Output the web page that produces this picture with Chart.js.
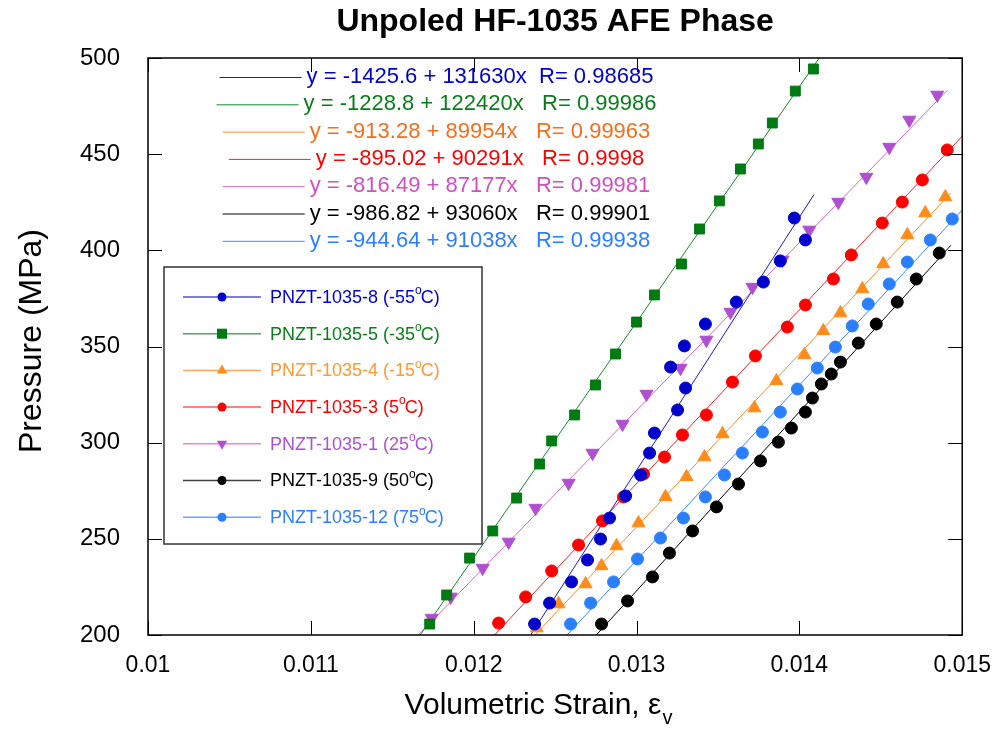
<!DOCTYPE html>
<html>
<head>
<meta charset="utf-8">
<script src="https://cdn.jsdelivr.net/npm/chart.js"></script>
<title>Unpoled HF-1035 AFE Phase</title>
<style>
  body { margin: 0; background: #fff; }
  #wrap { width: 1000px; height: 736px; position: relative; }
</style>
</head>
<body>
<div id="wrap"><canvas id="afeChart"></canvas></div>
<script>
// samples in legend order
const sampleNames = ['PNZT-1035-8', 'PNZT-1035-5', 'PNZT-1035-4', 'PNZT-1035-3', 'PNZT-1035-1', 'PNZT-1035-9', 'PNZT-1035-12'];
const temps = ['-55', '-35', '-15', '5', '25', '50', '75'];

// volumetric strain / pressure (MPa)
const strain8 = [0.012374, 0.012466, 0.012601, 0.012699, 0.012779, 0.012834, 0.012933, 0.013025, 0.013080, 0.013110, 0.013252, 0.013301, 0.013209, 0.013294, 0.013423, 0.013613, 0.013779, 0.013883, 0.014037, 0.013969];
const press8  = [205.7, 216.6, 227.6, 239.0, 249.9, 260.8, 272.3, 283.2, 294.6, 305.0, 317.0, 328.4, 339.3, 350.3, 361.7, 373.1, 383.5, 394.5, 405.4, 416.8];

const strain5 = [0.011730, 0.011834, 0.011975, 0.012117, 0.012264, 0.012405, 0.012479, 0.012620, 0.012748, 0.012871, 0.013000, 0.013110, 0.013276, 0.013387, 0.013509, 0.013638, 0.013748, 0.013834, 0.013975, 0.014086];
const press5  = [205.7, 220.8, 240.0, 254.1, 271.2, 288.9, 300.9, 314.4, 330.0, 346.1, 362.7, 376.8, 392.9, 411.1, 425.7, 442.3, 455.3, 466.2, 482.8, 494.3];

const strain4 = [0.012387, 0.012521, 0.012687, 0.012785, 0.012877, 0.013012, 0.013178, 0.013307, 0.013417, 0.013528, 0.013724, 0.013859, 0.014031, 0.014147, 0.014252, 0.014387, 0.014515, 0.014663, 0.014773, 0.014896];
const press4  = [203.6, 216.1, 226.5, 235.9, 246.3, 258.2, 271.8, 282.2, 292.5, 304.5, 318.0, 332.1, 345.6, 358.1, 367.4, 379.9, 392.9, 408.0, 419.4, 427.7];

const strain3 = [0.012153, 0.012319, 0.012479, 0.012644, 0.012791, 0.012920, 0.013043, 0.013172, 0.013282, 0.013429, 0.013589, 0.013730, 0.013926, 0.014037, 0.014209, 0.014319, 0.014509, 0.014632, 0.014755, 0.014908];
const press3  = [206.2, 219.8, 233.3, 246.8, 259.3, 271.8, 283.7, 292.5, 304.0, 314.4, 331.5, 345.1, 360.1, 371.6, 385.1, 397.6, 414.2, 425.1, 436.6, 452.2];

const strain1 = [0.011742, 0.011859, 0.012055, 0.012215, 0.012380, 0.012583, 0.012730, 0.012914, 0.013061, 0.013270, 0.013429, 0.013577, 0.013712, 0.013896, 0.014061, 0.014239, 0.014411, 0.014552, 0.014675, 0.014847];
const press1  = [208.8, 219.8, 234.8, 248.4, 266.0, 279.0, 294.6, 309.7, 325.3, 338.8, 353.4, 367.9, 380.9, 395.0, 410.6, 425.1, 438.1, 453.7, 467.8, 480.8];

const strain9 = [0.012785, 0.012945, 0.013098, 0.013202, 0.013344, 0.013491, 0.013626, 0.013761, 0.013871, 0.013951, 0.014037, 0.014080, 0.014135, 0.014196, 0.014252, 0.014362, 0.014472, 0.014601, 0.014718, 0.014859];
const press9  = [205.7, 217.7, 230.2, 242.6, 254.1, 266.6, 278.5, 290.5, 300.3, 307.6, 315.9, 323.2, 330.5, 335.7, 341.9, 351.8, 361.7, 373.1, 385.1, 398.6];

const strain12 = [0.012595, 0.012718, 0.012859, 0.013006, 0.013147, 0.013288, 0.013423, 0.013540, 0.013650, 0.013773, 0.013883, 0.013988, 0.014110, 0.014221, 0.014325, 0.014423, 0.014552, 0.014663, 0.014804, 0.014939];
const press12  = [205.7, 216.6, 227.6, 239.5, 250.4, 260.8, 271.8, 283.2, 294.6, 305.5, 315.9, 327.9, 338.8, 349.7, 360.7, 372.1, 382.5, 393.9, 405.4, 416.3];

// linear fits printed on the chart: y = a + b x
const fitIntercept = [-1425.6, -1228.8, -913.28, -895.02, -816.49, -986.82, -944.64];
const fitSlope     = [131630, 122420, 89954, 90291, 87177, 93060, 91038];
const fitR         = ['0.98685', '0.99986', '0.99963', '0.9998', '0.99981', '0.99901', '0.99938'];
const fitStart     = [0.01230, 0.01160, 0.01230, 0.01210, 0.01160, 0.01270, 0.01250];
const fitEnd       = [0.01409, 0.01420, 0.01493, 0.01500, 0.01491, 0.01493, 0.01500];

const strains = [strain8, strain5, strain4, strain3, strain1, strain9, strain12];
const pressures = [press8, press5, press4, press3, press1, press9, press12];

// styling
const FONT = "'Liberation Sans', Arial, sans-serif";
const markerColors = ['#0000cc', '#007a12', '#ff8c1a', '#ff0000', '#b050d0', '#000000', '#2a7fff'];
const lineColors   = ['#1a1acc', '#168a2a', '#ff8a2a', '#ff2020', '#d866c8', '#000000', '#3a88ff'];
const eqColors     = ['#0000cc', '#0a7d1a', '#f07020', '#ff0000', '#d050c0', '#000000', '#2a7fff'];
const legendColors = ['#0000cc', '#0a7d1a', '#ff9933', '#ff0000', '#b050d0', '#000000', '#2a7fff'];
const pointStyles  = ['circle', 'rect', 'triangle', 'circle', 'triangle', 'circle', 'circle'];
const pointSizes   = [6, 7, 7.5, 6, 7.5, 6, 6];
const rotations    = [0, 0, 0, 0, 180, 0, 0];
const eqGaps       = ['  ', '   ', '   ', '   ', '   ', '   ', '   '];

const datasets = [];
sampleNames.forEach((name, i) => {
    datasets.push({
        label: name,
        data: strains[i].map((x, j) => ({ x: x, y: pressures[i][j] })),
        showLine: false,
        pointStyle: pointStyles[i],
        pointRadius: pointSizes[i],
        pointRotation: rotations[i],
        backgroundColor: markerColors[i],
        borderColor: markerColors[i],
        borderWidth: 1,
        order: 0
    });
});
sampleNames.forEach((name, i) => {
    const a = fitIntercept[i], b = fitSlope[i];
    datasets.push({
        label: name + ' fit',
        data: [{ x: fitStart[i], y: a + b * fitStart[i] }, { x: fitEnd[i], y: a + b * fitEnd[i] }],
        showLine: true,
        pointRadius: 0,
        borderColor: lineColors[i],
        borderWidth: 1,
        order: 1
    });
});

function drawMarker(ctx, style, x, y, r, color, rot) {
    ctx.fillStyle = color;
    ctx.beginPath();
    if (style === 'circle') {
        ctx.arc(x, y, r, 0, Math.PI * 2);
    } else if (style === 'rect') {
        ctx.rect(x - r, y - r, 2 * r, 2 * r);
    } else {
        const d = rot === 180 ? -1 : 1;
        ctx.moveTo(x, y - d * r);
        ctx.lineTo(x + r * 0.866, y + d * r * 0.5);
        ctx.lineTo(x - r * 0.866, y + d * r * 0.5);
        ctx.closePath();
    }
    ctx.fill();
}

const decorations = {
    id: 'decorations',
    afterDraw(chart) {
        const ctx = chart.ctx;
        const area = chart.chartArea;
        const xs = chart.scales.x, ys = chart.scales.y;
        ctx.save();

        // frame and inward ticks
        ctx.strokeStyle = '#000';
        ctx.lineWidth = 1.5;
        ctx.strokeRect(area.left, area.top, area.right - area.left, area.bottom - area.top);
        ctx.lineWidth = 1;
        ctx.beginPath();
        xs.ticks.forEach(t => {
            const px = Math.round(xs.getPixelForValue(t.value)) + 0.5;
            ctx.moveTo(px, area.bottom); ctx.lineTo(px, area.bottom - 14);
            ctx.moveTo(px, area.top); ctx.lineTo(px, area.top + 14);
        });
        ys.ticks.forEach(t => {
            const py = Math.round(ys.getPixelForValue(t.value)) + 0.5;
            ctx.moveTo(area.left, py); ctx.lineTo(area.left + 14, py);
            ctx.moveTo(area.right, py); ctx.lineTo(area.right - 14, py);
        });
        ctx.stroke();

        // title
        ctx.fillStyle = '#000';
        ctx.textAlign = 'center';
        ctx.textBaseline = 'alphabetic';
        ctx.font = 'bold 32px ' + FONT;
        ctx.fillText('Unpoled HF-1035 AFE Phase', (area.left + area.right) / 2, 31);

        // y axis title
        ctx.save();
        ctx.translate(41, 341);
        ctx.rotate(-Math.PI / 2);
        ctx.font = '32px ' + FONT;
        ctx.fillText('Pressure (MPa)', 0, 0);
        ctx.restore();

        // x axis title with subscript
        ctx.font = '30px ' + FONT;
        const main = 'Volumetric Strain, \u03b5';
        const wMain = ctx.measureText(main).width;
        ctx.font = '20px ' + FONT;
        const wSub = ctx.measureText('v').width;
        const x0 = 538 - (wMain + wSub) / 2;
        ctx.textAlign = 'left';
        ctx.font = '30px ' + FONT;
        ctx.fillText(main, x0, 714);
        ctx.font = '20px ' + FONT;
        ctx.fillText('v', x0 + wMain + 1, 724);

        // fit equations
        ctx.font = '22px ' + FONT;
        ctx.textBaseline = 'middle';
        sampleNames.forEach((n, i) => {
            const txt = 'y = ' + fitIntercept[i] + ' + ' + fitSlope[i] + 'x' + eqGaps[i] + 'R= ' + fitR[i];
            const w = ctx.measureText(txt).width;
            const y = 77 + i * 27.3;
            const sx = 480 - w / 2;
            ctx.strokeStyle = lineColors[i];
            ctx.lineWidth = 1;
            ctx.beginPath();
            ctx.moveTo(sx - 87, y + 0.5); ctx.lineTo(sx - 5, y + 0.5);
            ctx.stroke();
            ctx.fillStyle = eqColors[i];
            ctx.fillText(txt, sx, y);
        });

        // legend box
        ctx.strokeStyle = '#333';
        ctx.lineWidth = 1.5;
        ctx.strokeRect(164, 267, 318, 277);
        sampleNames.forEach((n, i) => {
            const y = 297 + i * 36.7;
            ctx.globalAlpha = 0.75;
            ctx.strokeStyle = lineColors[i];
            ctx.lineWidth = 1.5;
            ctx.beginPath();
            ctx.moveTo(183, y); ctx.lineTo(261, y);
            ctx.stroke();
            ctx.globalAlpha = 1;
            const r = pointStyles[i] === 'rect' ? 5 : (pointStyles[i] === 'triangle' ? 6 : 4.5);
            drawMarker(ctx, pointStyles[i], 222, y, r, markerColors[i], rotations[i]);

            ctx.fillStyle = legendColors[i];
            ctx.textBaseline = 'middle';
            ctx.font = '18px ' + FONT;
            const part1 = n + ' (' + temps[i];
            ctx.fillText(part1, 270, y + 1);
            let tx = 270 + ctx.measureText(part1).width;
            ctx.font = '12px ' + FONT;
            ctx.fillText('o', tx, y - 6);
            tx += ctx.measureText('o').width - 1;
            ctx.font = '18px ' + FONT;
            ctx.fillText('C)', tx, y + 1);
        });
        ctx.restore();
    }
};

const ctx = document.getElementById('afeChart').getContext('2d');
new Chart(ctx, {
    type: 'scatter',
    data: { datasets: datasets },
    options: {
        responsive: true,
        maintainAspectRatio: false,
        animation: false,
        layout: { padding: { top: 58, right: 37, left: 0, bottom: 0 } },
        plugins: {
            legend: { display: false },
            tooltip: { enabled: false }
        },
        scales: {
            x: {
                type: 'linear',
                min: 0.01,
                max: 0.015,
                grid: { display: false },
                border: { display: false },
                ticks: {
                    stepSize: 0.001,
                    autoSkip: false,
                    maxRotation: 0,
                    padding: 9,
                    color: '#000',
                    font: { family: FONT, size: 23 },
                    callback: v => String(+v.toFixed(3))
                },
                afterFit: s => { s.height = 101; }
            },
            y: {
                min: 200,
                max: 500,
                grid: { display: false },
                border: { display: false },
                ticks: {
                    stepSize: 50,
                    padding: 20,
                    color: '#000',
                    font: { family: FONT, size: 24 }
                },
                afterFit: s => { s.width = 148; }
            }
        }
    },
    plugins: [decorations]
});
</script>
</body>
</html>
